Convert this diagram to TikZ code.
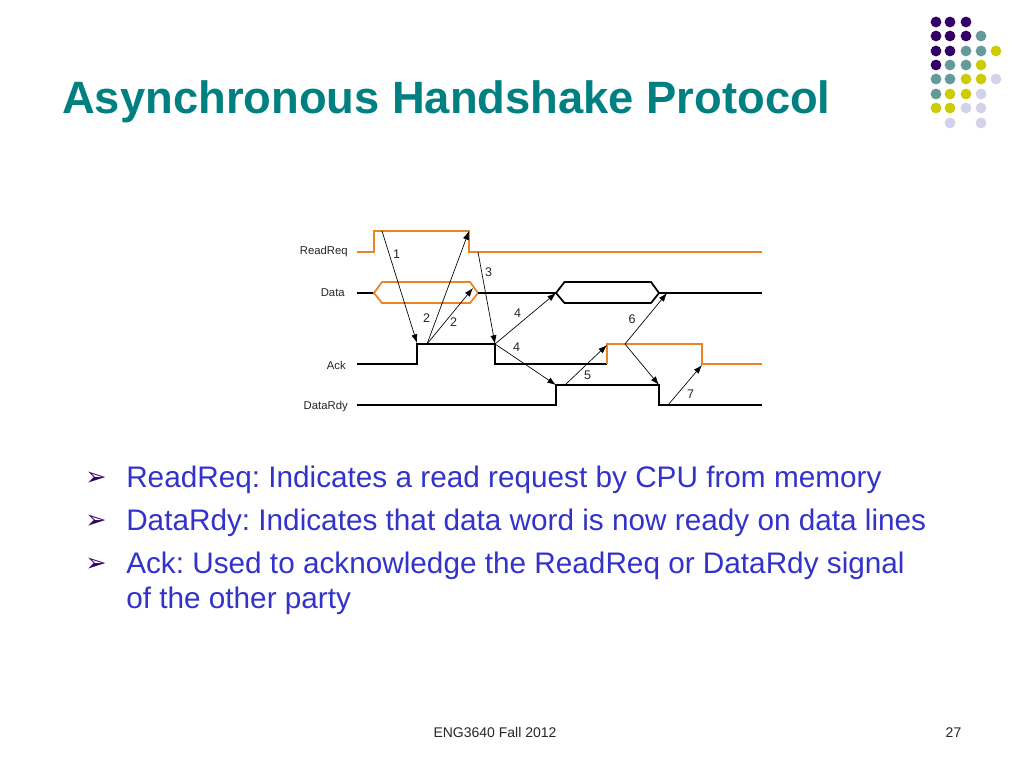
\documentclass[tikz,border=0pt]{standalone}
\usepackage{fontspec}
\setmainfont{Liberation Sans}
\newfontfamily\dejavu{DejaVu Sans}
\usepackage{xcolor}
\usetikzlibrary{positioning,arrows.meta}
\definecolor{ttl}{HTML}{008080}
\definecolor{bodyblue}{HTML}{3333CC}
\definecolor{purp}{HTML}{330066}
\definecolor{tealdot}{HTML}{669999}
\definecolor{yeldot}{HTML}{CCCC00}
\definecolor{lavdot}{HTML}{D2D2EA}
\definecolor{sigorange}{HTML}{EC8424}
\frenchspacing
\begin{document}
\begin{tikzpicture}[x=0.75pt,y=-0.75pt,
 sigblack/.style={draw=black,line width=1.3pt},
 sigorg/.style={draw=sigorange,line width=1.3pt},
 ar/.style={-{Latex[length=6.5pt,width=4.6pt]},line width=0.5pt},
 siglbl/.style={font=\fontsize{8.5}{10}\selectfont,anchor=east,inner sep=0pt,text=black!85},
 num/.style={font=\fontsize{9.4}{10}\selectfont,inner sep=0pt,text=black!85},
 bul/.style={font=\fontsize{22.3}{26.2}\selectfont,text=bodyblue,anchor=base west,inner sep=0pt,align=left},
 tick/.style={font=\dejavu\fontsize{19}{19}\selectfont,text=purp,inner sep=0pt},
 foot/.style={font=\fontsize{10.5}{12}\selectfont,inner sep=0pt,text=black!85}]
\useasboundingbox (0,0) rectangle (1024,768);
\fill[white] (0,0) rectangle (1024,768);
\foreach \cx/\cy/\col in {936/22/purp,950/22/purp,966/22/purp,
 936/36/purp,950/36/purp,966/36/purp,981/36/tealdot,
 936/51/purp,950/51/purp,966/51/tealdot,981/51/tealdot,996/51/yeldot,
 936/65/purp,950/65/tealdot,966/65/tealdot,981/65/yeldot,
 936/79/tealdot,950/79/tealdot,966/79/yeldot,981/79/yeldot,996/79/lavdot,
 936/94/tealdot,950/94/yeldot,966/94/yeldot,981/94/lavdot,
 936/108/yeldot,950/108/yeldot,966/108/lavdot,981/108/lavdot,
 950/123/lavdot,981/123/lavdot}
 \fill[\col] (\cx,\cy) circle (5.4);
\node[font=\bfseries\fontsize{34}{40}\selectfont,text=ttl,anchor=base west,inner sep=0pt] (title) at (62,113) {Asynchronous Handshake Protocol};
\node[siglbl] (rr) at (348,252) {ReadReq};
\node[siglbl] (dt) at (345,293) {Data};
\node[siglbl] (ak) at (346,365) {Ack};
\node[siglbl] (dr) at (348,406.5) {DataRdy};
\coordinate (rrstart) at (357,252);
\coordinate (rrup) at (382,231);
\coordinate (rrtop) at (469,231);
\coordinate (rrlow) at (478,252);
\coordinate (dthex) at (478,293);
\coordinate (dthexa) at (473,288);
\coordinate (dtin) at (556,293);
\coordinate (dtout) at (667,293);
\coordinate (akup) at (417,343);
\coordinate (akhi) at (427,344);
\coordinate (akdn) at (495,344);
\coordinate (aklow) at (607,345);
\coordinate (akmid) at (625,344);
\coordinate (akend) at (702,365);
\coordinate (drup) at (556,385);
\coordinate (drhi) at (565,385);
\coordinate (drdn) at (659,385);
\coordinate (drlow) at (668,405);
\draw[sigorg] (rrstart) -- (374,252) -- (374,231) -- (469,231) -- (469,252) -- (762,252);
\draw[sigblack] (357,293) -- (374,293);
\draw[sigorg] (374,293) -- (382,282) -- (470,282) -- (478,293) -- (470,303) -- (382,303) -- cycle;
\draw[sigblack] (dthex) -- (dtin);
\draw[sigblack] (556,293) -- (564.5,282) -- (651,282) -- (659,293) -- (651,303) -- (564.5,303) -- cycle;
\draw[sigblack] (659,293) -- (762,293);
\draw[sigblack] (357,364) -- (417,364) -- (417,344) -- (495,344) -- (495,364) -- (607,364);
\draw[sigorg] (607,364) -- (607,344) -- (702,344) -- (702,364) -- (762,364);
\draw[sigblack] (357,405) -- (556,405) -- (556,385) -- (659,385) -- (659,405) -- (762,405);
\draw[ar] (rrup) -- (akup);
\draw[ar] (akhi) -- (rrtop);
\draw[ar] (akhi) -- (dthexa);
\draw[ar] (rrlow) -- (akdn);
\draw[ar] (akdn) -- (dtin);
\draw[ar] (akdn) -- (drup);
\draw[ar] (drhi) -- (aklow);
\draw[ar] (akmid) -- (dtout);
\draw[ar] (akmid) -- (drdn);
\draw[ar] (drlow) -- (akend);
\node[num] (n1) at (396.5,254) {1};
\node[num] (n2a) at (426.5,318.5) {2};
\node[num] (n2b) at (453.5,322.5) {2};
\node[num] (n3) at (488.5,272) {3};
\node[num] (n4a) at (517.5,313.5) {4};
\node[num] (n4b) at (516.5,347.5) {4};
\node[num] (n5) at (587.5,375.5) {5};
\node[num] (n6) at (632,319.5) {6};
\node[num] (n7) at (690.5,394) {7};
\node[tick] (t1) at (96,479) {➢};
\node[tick] (t2) at (96,522) {➢};
\node[tick] (t3) at (96,565) {➢};
\node[bul] (b1) at (126,487) {ReadReq: Indicates a read request by CPU from memory};
\node[bul] (b2) at (126,530) {DataRdy: Indicates that data word is now ready on data lines};
\node[bul] (b3) at (126,573) {Ack: Used to acknowledge the ReadReq or DataRdy signal};
\node[bul] (b4) at (126,608) {of the other party};
\node[foot] (ft) at (495,732) {ENG3640 Fall 2012};
\node[foot] (pg) at (953.5,733) {27};
\end{tikzpicture}
\end{document}
